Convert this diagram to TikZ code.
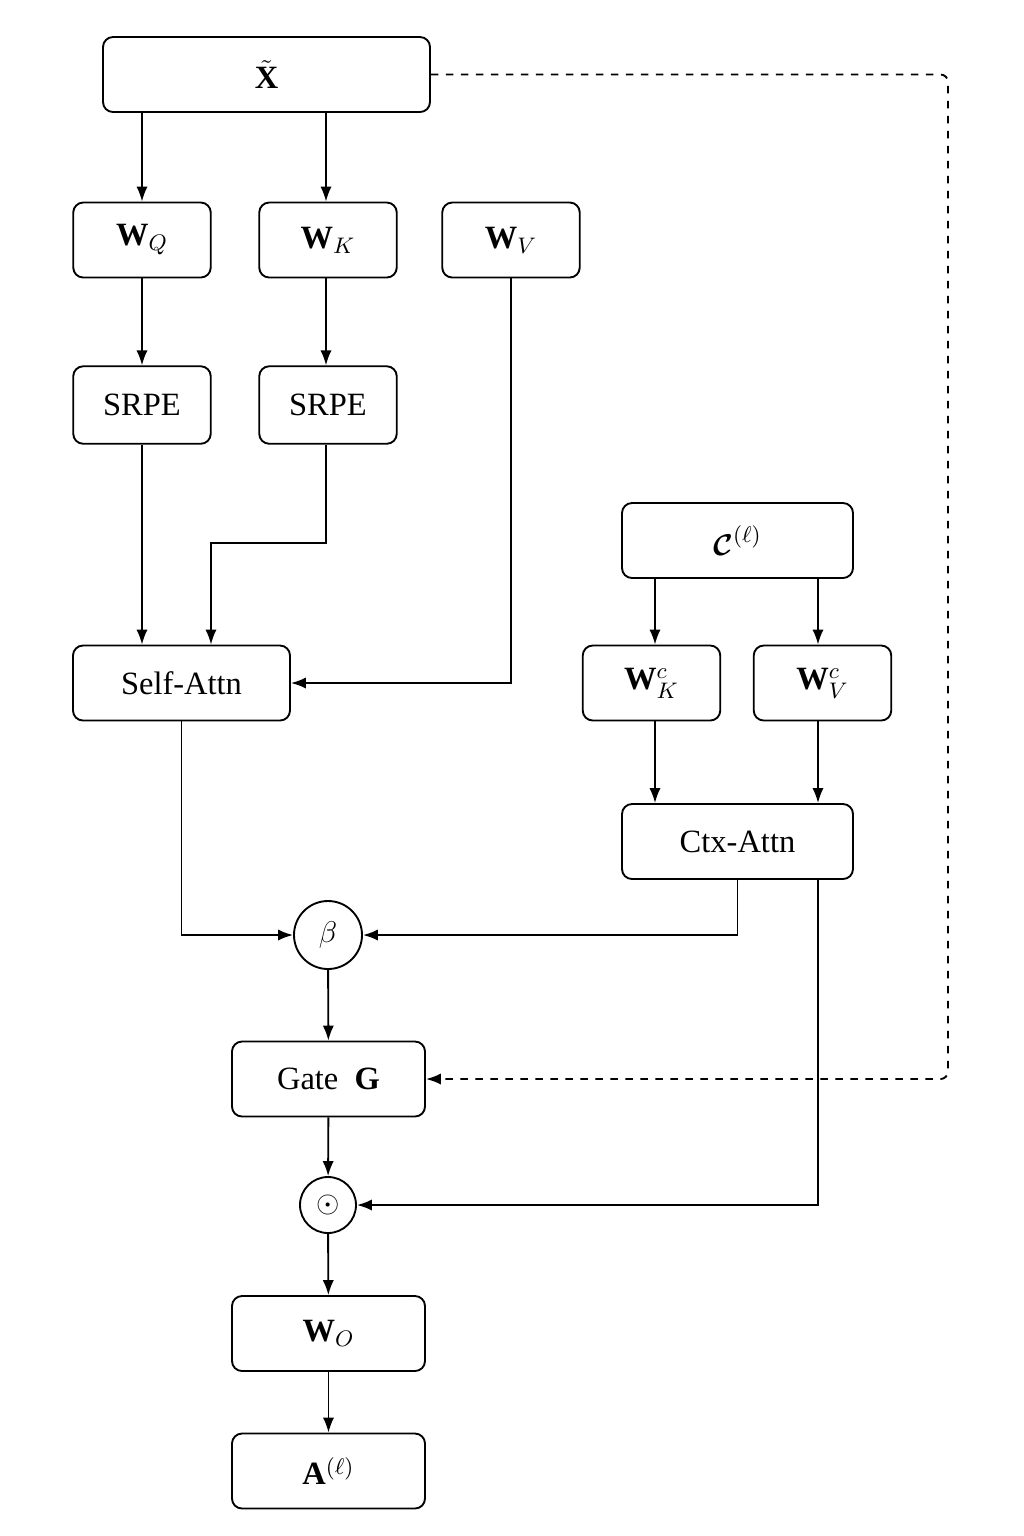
\documentclass[tikz,border=0pt]{standalone}
\usepackage{amsmath,bm}
\usepackage{fontspec}
\setmainfont{Liberation Serif}
\usetikzlibrary{arrows.meta}

\tikzset{
  blk/.style={draw, rounded corners=4pt, line width=0.75pt, minimum width=55pt, minimum height=30pt, inner sep=1pt},
  opnode/.style={draw, circle, line width=0.75pt, inner sep=0pt},
  flow/.style={line width=0.75pt, -{Latex[length=6pt,width=4.5pt]}},
}

\begin{document}
\begin{tikzpicture}[x=0.4pt,y=0.4pt,yscale=-1,xscale=1,font=\fontsize{13}{16}\selectfont]
\useasboundingbox (0,0) rectangle (1024,1536);

%Shape: input block
\node [blk, minimum width=130.8pt] (xt) at (266.5,74.5) {$\tilde{\mathbf{X}}$};
%Shape: projections
\node [blk] (wq) at (142,240) {$\mathbf{W}_Q$};
\node [blk] (wk) at (328,240) {$\mathbf{W}_K$};
\node [blk] (wv) at (511,240) {$\mathbf{W}_V$};
%Shape: positional encodings
\node [blk, minimum height=31pt] (pq) at (142,405) {SRPE};
\node [blk, minimum height=31pt] (pk) at (328,405) {SRPE};
%Shape: context block
\node [blk, minimum width=92.4pt] (ctx) at (737.5,540.5) {$\bm{\mathcal{C}}^{(\ell)}$};
%Shape: attention blocks
\node [blk, minimum width=86.8pt] (sa) at (181.5,683) {Self-Attn};
\node [blk] (wkc) at (651.5,683) {$\mathbf{W}^c_K$};
\node [blk] (wvc) at (822.5,683) {$\mathbf{W}^c_V$};
\node [blk, minimum width=92.4pt] (ca) at (737.5,841.5) {Ctx-Attn};
%Shape: mixing and gating
\node [opnode, minimum size=27.2pt] (beta) at (328,935) {$\beta$};
\node [blk, minimum width=77.2pt] (gate) at (328.5,1079) {Gate \ $\mathbf{G}$};
\node [opnode, minimum size=22.4pt] (had) at (328,1205) {$\odot$};
\node [blk, minimum width=77.2pt] (wo) at (328.5,1333.5) {$\mathbf{W}_O$};
\node [blk, minimum width=77.2pt] (aout) at (328.5,1471) {$\mathbf{A}^{(\ell)}$};

%Straight Lines: query / key / value paths
\draw [flow] (xt.south -| wq) -- (wq);
\draw [flow] (xt.south -| 326,0) -- (wk.north -| 326,0);
\draw [flow] (wq) -- (pq);
\draw [flow] (wk.south -| 326,0) -- (pk.north -| 326,0);
\draw [flow] (pq) -- (sa.north -| pq);
\draw [flow] (pk.south -| 326,0) -- (326,543) -- (211,543) -- (sa.north -| 211,0);
\draw [flow] (wv) |- (sa);
%Straight Lines: context paths
\draw [flow] (ctx.south -| 655,0) -- (wkc.north -| 655,0);
\draw [flow] (ctx.south -| 818,0) -- (wvc.north -| 818,0);
\draw [flow] (wkc.south -| 655,0) -- (ca.north -| 655,0);
\draw [flow] (wvc.south -| 818,0) -- (ca.north -| 818,0);
%Straight Lines: merging
\draw [flow] (sa) |- (beta);
\draw [flow] (ca) |- (beta);
\draw [flow] (beta) -- (gate);
\draw [flow] (gate) -- (had);
\draw [flow] (ca.south -| 818,0) |- (had);
\draw [flow] (had) -- (wo);
\draw [flow] (wo) -- (aout);
%Straight Lines: skip to the gate
\draw [flow, dashed, rounded corners=3pt] (xt.east) -- (948,74.5) -- (948,1079) -- (gate.east);

\end{tikzpicture}
\end{document}
